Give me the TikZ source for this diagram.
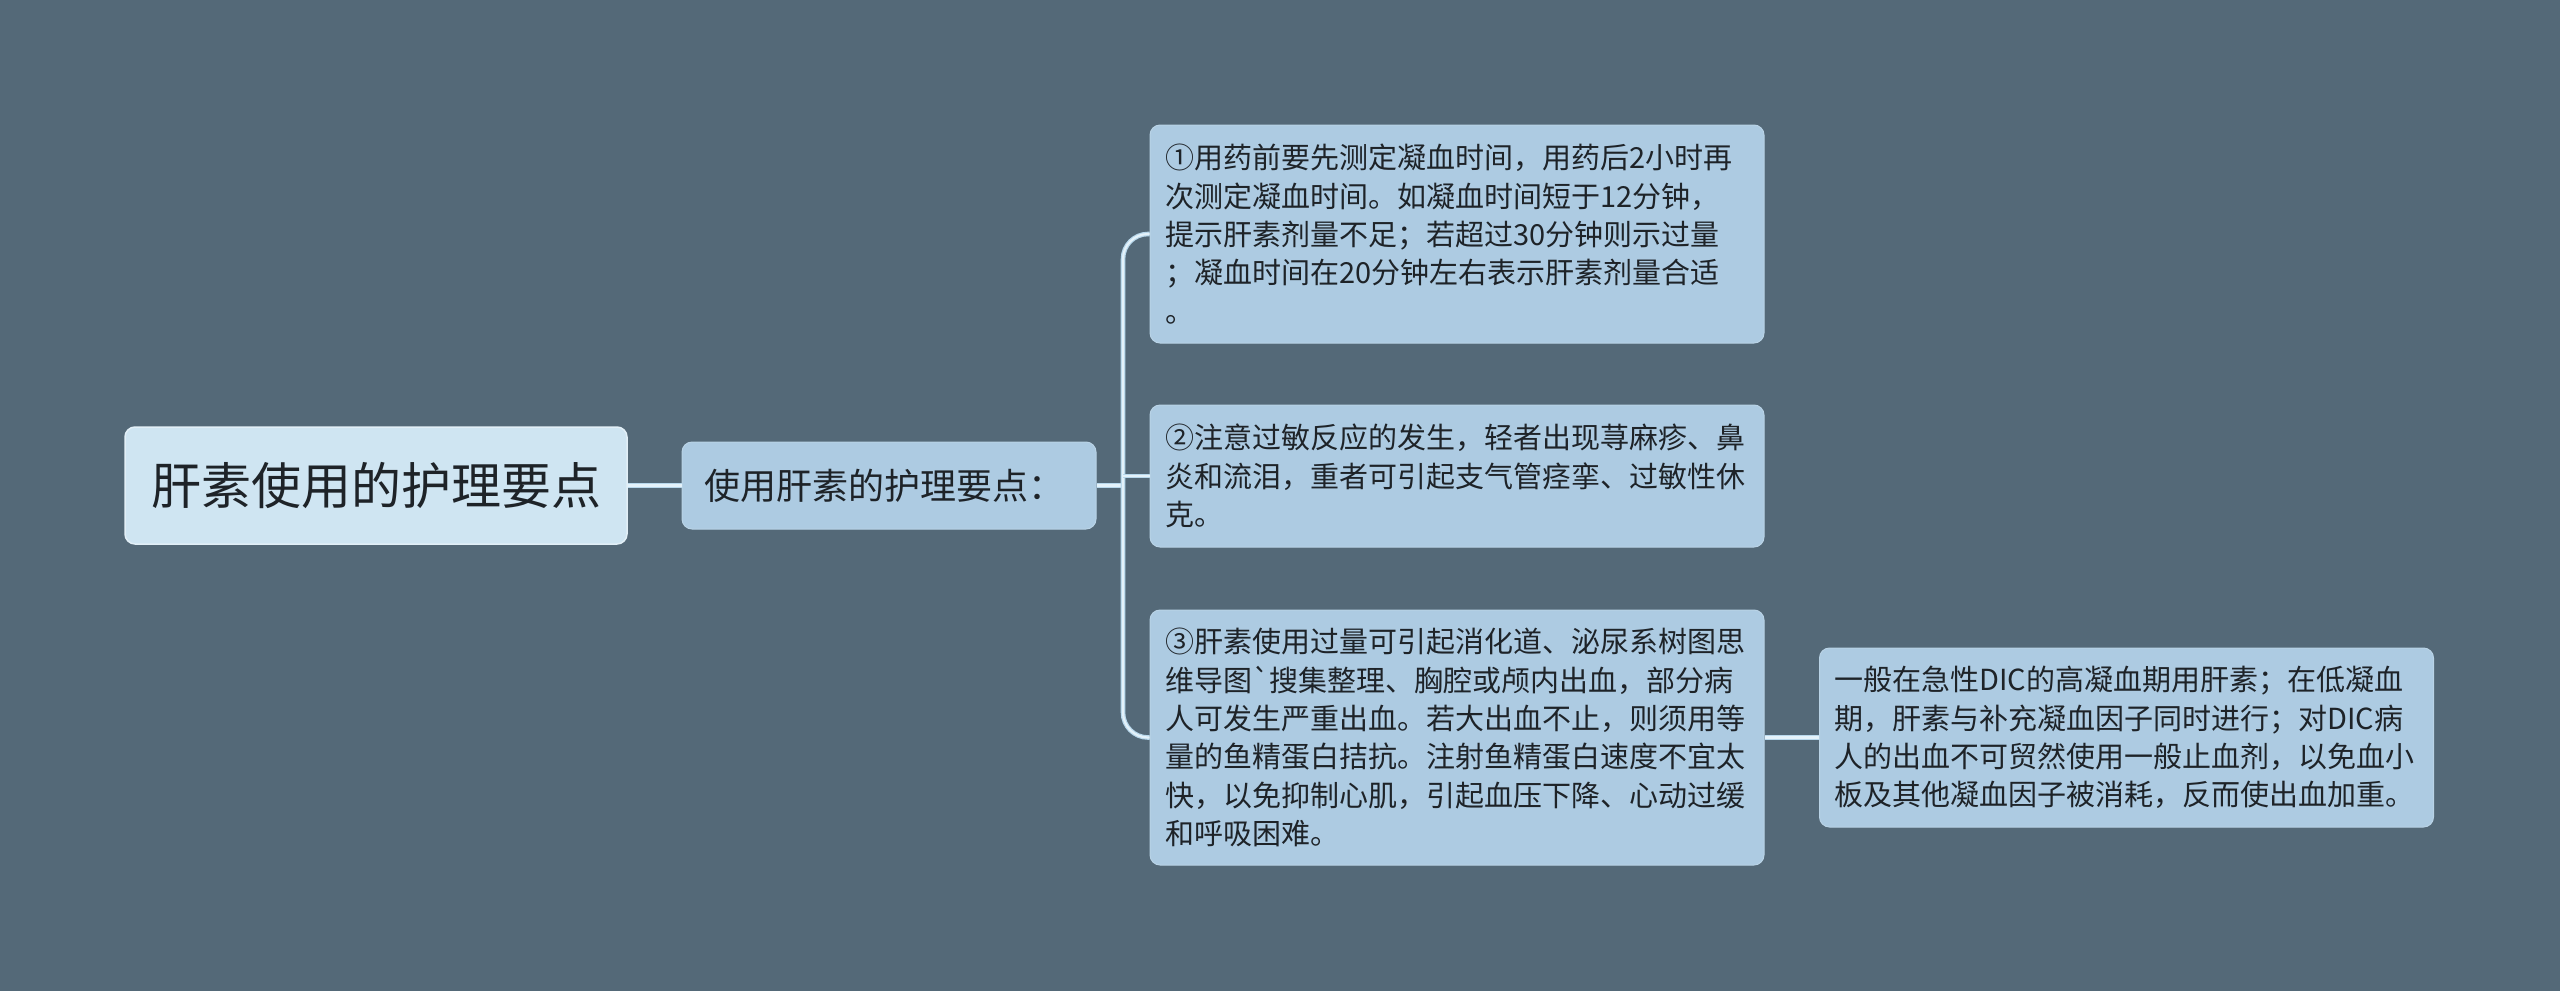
\documentclass[tikz,border=0pt]{standalone}
\usepackage{fontspec}
\setmainfont{Noto Sans CJK SC}
\newfontfamily\rawcjk{Noto Sans CJK SC}[Ligatures=ResetAll]
\definecolor{bg}{HTML}{546978}
\definecolor{rootfill}{HTML}{CFE5F2}
\definecolor{boxfill}{HTML}{ADCBE2}
\definecolor{conncol}{HTML}{B8D8EC}
\definecolor{connmid}{HTML}{E4F2FA}
\definecolor{txt}{HTML}{1E2328}
\tikzset{
  rootbox/.style={draw=rootfill!60!white, line width=1.5pt, fill=rootfill, rounded corners=10pt,
    minimum width=502pt, minimum height=117pt, inner sep=0pt, text=txt,
    font=\fontsize{50}{60}\selectfont},
  midbox/.style={draw=boxfill!85!white, line width=1pt, fill=boxfill, rounded corners=10pt,
    minimum width=414pt, minimum height=87pt, inner sep=0pt, text=txt,
    font=\fontsize{36}{44}\selectfont},
  leafbox/.style={draw=boxfill!85!white, line width=1pt, fill=boxfill, rounded corners=10pt,
    text width=584pt, inner xsep=15pt, inner ysep=0pt, align=left, text=txt,
    font=\fontsize{29}{38.3}\selectfont},
  conn/.style={draw=conncol, line width=1.2pt, double=connmid, double distance=2.2pt},
}
\begin{document}
\begin{tikzpicture}[x=1pt,y=-1pt]
\fill[bg] (0,0) rectangle (2560,991);
\useasboundingbox (0,0) rectangle (2560,991);

\node[rootbox] (r) at (376,485.5) {肝素使用的护理要点};
\node[midbox] (m) at (889,485.5) {使用肝素的护理要点：\hspace*{10pt}};

\node[leafbox, minimum height=218pt] (b1) at (1457,234) {①用药前要先测定凝血时间，用药后2小时再\\次测定凝血时间。如凝血时间短于12分钟，\\提示肝素剂量不足；若超过30分钟则示过量\\；凝血时间在20分钟左右表示肝素剂量合适\\。};
\node[leafbox, minimum height=142pt] (b2) at (1457,476) {②注意过敏反应的发生，轻者出现荨麻疹、鼻\\炎和流泪，重者可引起支气管痉挛、过敏性休\\克。};
\node[leafbox, minimum height=255pt] (b3) at (1457,737.5) {③肝素使用过量可引起消化道、泌尿系树图思\\维导图{\rawcjk `}搜集整理、胸腔或颅内出血，部分病\\人可发生严重出血。若大出血不止，则须用等\\量的鱼精蛋白拮抗。注射鱼精蛋白速度不宜太\\快，以免抑制心肌，引起血压下降、心动过缓\\和呼吸困难。};
\node[leafbox, minimum height=179pt] (b4) at (2126.5,737.5) {一般在急性DIC的高凝血期用肝素；在低凝血\\期，肝素与补充凝血因子同时进行；对DIC病\\人的出血不可贸然使用一般止血剂，以免血小\\板及其他凝血因子被消耗，反而使出血加重。};

\coordinate (tx) at (1123,485.5);

\draw[conn] (r.east) -- (m.west);
\draw[conn] (m.east) -- (tx);
\draw[conn, rounded corners=25pt] (b1.west) -| (tx) |- (b3.west);
\draw[conn] (tx |- b2.west) -- (b2.west);
\draw[conn] (b3.east) -- (b4.west);
\end{tikzpicture}
\end{document}
